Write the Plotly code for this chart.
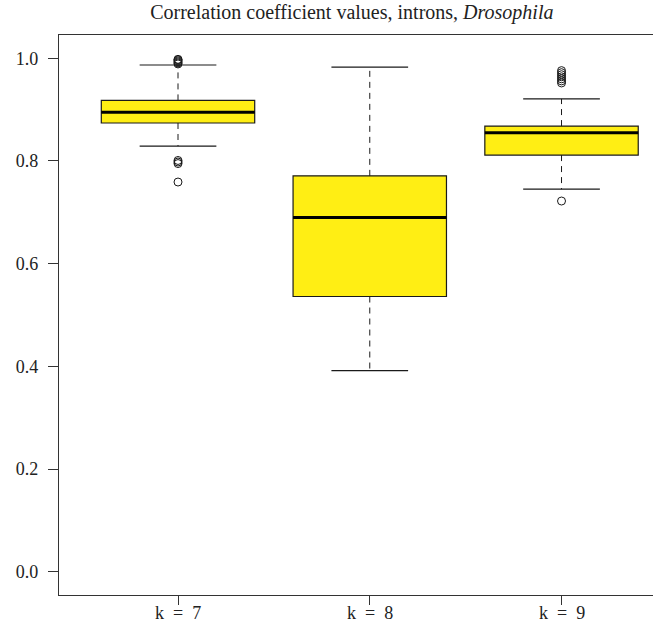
import plotly.graph_objects as go

# ---- data ----
categories = ["k\u2002=\u20027", "k\u2002=\u20028", "k\u2002=\u20029"]
positions = [1, 2, 3]
q1 = [0.874, 0.536, 0.8115]
median = [0.895, 0.690, 0.855]
q3 = [0.918, 0.771, 0.868]
lower_whisker = [0.829, 0.3915, 0.745]
upper_whisker = [0.987, 0.983, 0.921]
outliers = [
    [0.989, 0.991, 0.993, 0.995, 0.997, 0.998, 0.795, 0.798, 0.801, 0.759],
    [],
    [0.952, 0.956, 0.960, 0.964, 0.968, 0.972, 0.976, 0.722],
]
y_ticks = [0.0, 0.2, 0.4, 0.6, 0.8, 1.0]

BOX_W = 0.8
CAP_W = 0.4
FILL = "#FFEE14"
LINE = "#1a1a1a"
FONT = "Liberation Serif"
PLOT_H = 630 - 35 - 35

fig = go.Figure()

for i, p in enumerate(positions):
    fig.add_trace(go.Box(
        x=[p], q1=[q1[i]], median=[median[i]], q3=[q3[i]],
        lowerfence=[q1[i]], upperfence=[q3[i]],
        width=BOX_W, fillcolor=FILL,
        line=dict(color=LINE, width=1.2),
        whiskerwidth=0, boxpoints=False, hoverinfo="skip",
        showlegend=False,
    ))
    for a, b in ((q3[i], upper_whisker[i]), (q1[i], lower_whisker[i])):
        fig.add_trace(go.Scatter(
            x=[p, p], y=[a, b], mode="lines",
            line=dict(color=LINE, width=1, dash="6px,5px"),
            showlegend=False, hoverinfo="skip",
        ))
    for c in (upper_whisker[i], lower_whisker[i]):
        fig.add_trace(go.Scatter(
            x=[p - CAP_W / 2, p + CAP_W / 2], y=[c, c], mode="lines",
            line=dict(color=LINE, width=1.2),
            showlegend=False, hoverinfo="skip",
        ))
    fig.add_trace(go.Scatter(
        x=[p - BOX_W / 2, p + BOX_W / 2], y=[median[i], median[i]], mode="lines",
        line=dict(color="#000000", width=3),
        showlegend=False, hoverinfo="skip",
    ))
    if outliers[i]:
        fig.add_trace(go.Scatter(
            x=[p] * len(outliers[i]), y=outliers[i], mode="markers",
            marker=dict(symbol="circle-open", size=8, color=LINE, line=dict(width=1)),
            showlegend=False, hoverinfo="skip",
        ))

# category labels under the ticks
for p, lab in zip(positions, categories):
    fig.add_annotation(
        x=p, xref="x", y=-(613 - 595) / PLOT_H, yref="paper",
        text=lab, showarrow=False, xanchor="center", yanchor="middle",
        font=dict(family=FONT, size=18, color="#222"),
    )

fig.update_layout(
    width=653, height=630,
    margin=dict(l=59, r=0, t=35, b=35),
    plot_bgcolor="white", paper_bgcolor="white",
    font=dict(family=FONT, size=18, color="#222"),
    title=dict(
        text="Correlation coefficient values, introns, <i>Drosophila</i>",
        x=0.493, xref="paper", xanchor="center",
        y=1 - 12 / 630, yref="container", yanchor="middle",
        font=dict(family=FONT, size=20, color="#222"),
    ),
    xaxis=dict(
        range=[0.3794, 3.477],
        tickmode="array", tickvals=positions, ticktext=categories,
        showticklabels=False,
        ticks="outside", ticklen=9, tickcolor="#333", tickwidth=1,
        showline=True, linecolor="#333", linewidth=1.2, mirror=True,
        showgrid=False, zeroline=False,
    ),
    yaxis=dict(
        range=[-0.0454, 1.0454],
        tickmode="array", tickvals=y_ticks, ticktext=[f"{v:.1f}" for v in y_ticks],
        ticks="outside", ticklen=10, tickcolor="#333", tickwidth=1,
        ticklabelstandoff=6,
        showline=True, linecolor="#333", linewidth=1.2, mirror=False,
        showgrid=False, zeroline=False,
        tickfont=dict(family=FONT, size=18, color="#222"),
    ),
)

fig.write_html("out.html")
